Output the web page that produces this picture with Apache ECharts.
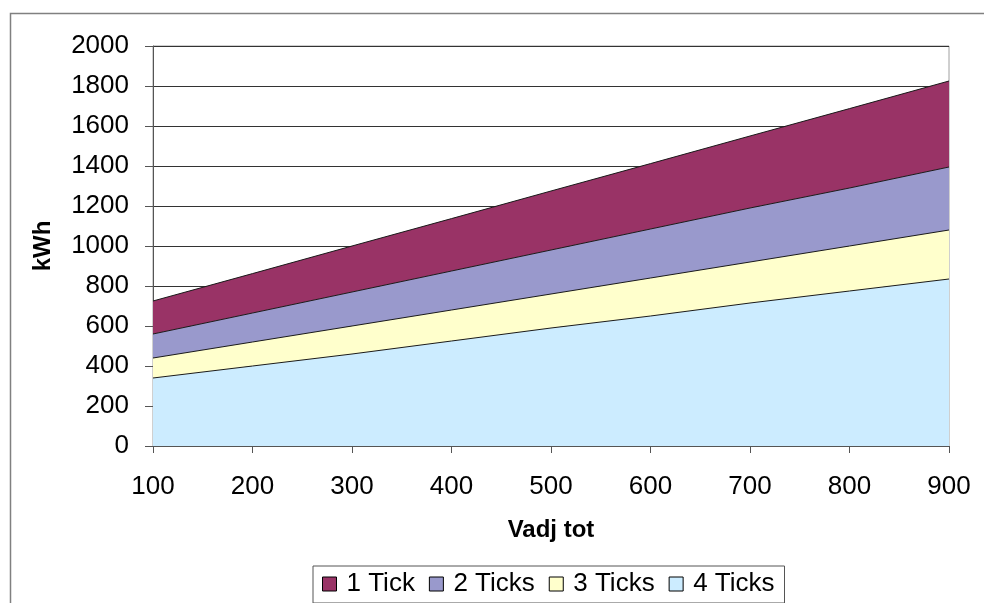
<!DOCTYPE html>
<html>
<head>
<meta charset="utf-8">
<script src="https://cdn.jsdelivr.net/npm/echarts@6/dist/echarts.min.js"></script>
<style>
html,body{margin:0;padding:0;background:#fff;}
#c{width:984px;height:603px;}
</style>
</head>
<body>
<div id="c"></div>
<script>
var categories = ['100','200','300','400','500','600','700','800','900'];
var tick4 = [340, 400, 460, 525, 590, 650, 715, 775, 835];
var tick3 = [100, 120, 140, 155, 170, 190, 205, 225, 245];
var tick2 = [120, 145, 170, 195, 220, 245, 270, 290, 315];
var tick1 = [165, 197, 230, 262, 295, 327, 360, 397, 430];
var yTicks = {min: 0, max: 2000, interval: 200};

var FONT = '"Liberation Sans", Arial, sans-serif';
var chart = echarts.init(document.getElementById('c'), null, {renderer: 'canvas'});

function areaSeries(name, data, color) {
  return {
    name: name,
    type: 'line',
    stack: 'total',
    data: data,
    symbol: 'none',
    lineStyle: {color: '#1a1a1a', width: 1},
    areaStyle: {color: color, opacity: 1},
    itemStyle: {color: color, borderColor: '#000', borderWidth: 1},
    emphasis: {disabled: true},
    animation: false
  };
}

chart.setOption({
  animation: false,
  backgroundColor: '#fff',
  graphic: [{
    type: 'rect',
    shape: {x: 10.5, y: 13.5, width: 1000, height: 700},
    style: {fill: 'none', stroke: '#808080', lineWidth: 1.5},
    silent: true
  }],
  grid: {
    left: 153, top: 46, width: 796, height: 400,
    show: true, borderColor: '#a0a0a0', borderWidth: 1, backgroundColor: '#fff'
  },
  legend: {
    data: ['1 Tick', '2 Ticks', '3 Ticks', '4 Ticks'],
    left: 313, top: 566,
    padding: [5, 10, 6, 9],
    itemGap: 14,
    itemWidth: 14, itemHeight: 14,
    icon: 'rect',
    borderColor: '#555', borderWidth: 1,
    backgroundColor: '#fff',
    itemStyle: {borderColor: '#000', borderWidth: 1},
    textStyle: {fontFamily: FONT, fontSize: 26, color: '#000', padding: [0, 0, 0, 5]}
  },
  xAxis: {
    type: 'category',
    data: categories,
    boundaryGap: false,
    name: 'Vadj tot',
    nameLocation: 'middle',
    nameGap: 72,
    nameTextStyle: {fontFamily: FONT, fontSize: 24, fontWeight: 'bold', color: '#000'},
    axisLine: {lineStyle: {color: '#555', width: 1}},
    axisTick: {show: true, length: 7, inside: false, lineStyle: {color: '#555'}},
    axisLabel: {fontFamily: FONT, fontSize: 26, color: '#000', margin: 28},
    splitLine: {show: false}
  },
  yAxis: {
    type: 'value',
    min: yTicks.min, max: yTicks.max, interval: yTicks.interval,
    name: 'kWh',
    nameLocation: 'middle',
    nameRotate: 90,
    nameGap: 98,
    nameTextStyle: {fontFamily: FONT, fontSize: 24, fontWeight: 'bold', color: '#000'},
    axisLine: {show: true, lineStyle: {color: '#555', width: 1}},
    axisTick: {show: true, length: 8, lineStyle: {color: '#555'}},
    axisLabel: {fontFamily: FONT, fontSize: 26, color: '#000', margin: 24,
      formatter: function (v) { return String(v); }},
    splitLine: {show: true, lineStyle: {color: '#333', width: 1}}
  },
  series: [
    areaSeries('4 Ticks', tick4, '#CCECFF'),
    areaSeries('3 Ticks', tick3, '#FFFFCC'),
    areaSeries('2 Ticks', tick2, '#9999CC'),
    areaSeries('1 Tick', tick1, '#993366')
  ]
});
</script>
</body>
</html>
